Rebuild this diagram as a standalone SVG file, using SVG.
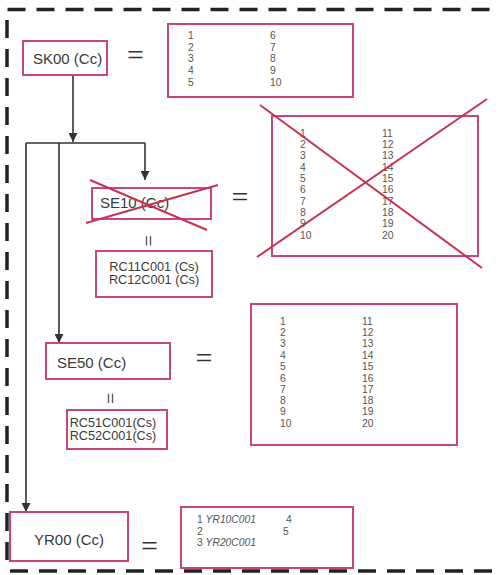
<svg xmlns="http://www.w3.org/2000/svg" width="499" height="575" viewBox="0 0 499 575">
<defs>
<marker id="ah" viewBox="0 0 10 10" refX="10" refY="5" markerWidth="9" markerHeight="9" markerUnits="userSpaceOnUse" orient="auto">
<path d="M0,0 L10,5 L0,10 Z" fill="#333"/>
</marker>
</defs>
<style>
.box{fill:#fff;stroke:#c8457f;stroke-width:2}
.lbl{font-family:"Liberation Sans",Arial,sans-serif;fill:#3a3a3a}
.big{font-size:15px}
.sub{font-size:12.7px;text-anchor:middle}
.num{font-size:10.3px;fill:#555}
.eq{font-size:30px;text-anchor:middle;dominant-baseline:central;fill:#333}
.eqs{font-size:20px;text-anchor:middle;dominant-baseline:central;fill:#333}
.x{stroke:#c8324f;stroke-width:2;fill:none}
.conn{stroke:#333;stroke-width:1.6;fill:none}
.border{stroke:#222;stroke-width:3.5;fill:none;stroke-dasharray:18 11}
</style>
<g id="frame">
<path class="border" d="M7,560 V9.5 H495"/>
<path class="border" d="M10,571 H495"/>
</g>
<g id="connectors">
<path class="conn" d="M73,75 V142" marker-end="url(#ah)"/>
<path class="conn" d="M26,143 H145"/>
<path class="conn" d="M145,143 V180" marker-end="url(#ah)"/>
<path class="conn" d="M59,143 V343" marker-end="url(#ah)"/>
<path class="conn" d="M26,143 V512" marker-end="url(#ah)"/>
</g>
<g id="SK00">
<rect class="box" x="23" y="41" width="84" height="34"/>
<text class="lbl big" x="33" y="64">SK00 (Cc)</text>
</g>
<g id="SK00-eq"><text class="eq" x="135.5" y="54.5">=</text></g>
<g id="SK00-list">
<rect class="box" x="168" y="24" width="185" height="73"/>
<g class="lbl num">
<text x="188" y="39">1</text><text x="188" y="51">2</text><text x="188" y="62">3</text><text x="188" y="74">4</text><text x="188" y="86">5</text>
<text x="270" y="39">6</text><text x="270" y="51">7</text><text x="270" y="62">8</text><text x="270" y="74">9</text><text x="270" y="86">10</text>
</g>
</g>
<g id="SE10">
<rect class="box" x="92" y="188" width="119" height="31"/>
<text class="lbl big" x="100" y="208">SE10 (Cc)</text>
<path class="x" d="M90,180 L207,230 M86,223 L218,185"/>
</g>
<g id="SE10-eq"><text class="eq" x="240" y="196">=</text></g>
<g id="SE10-list">
<rect class="box" x="272" y="116" width="206" height="140"/>
<g class="lbl num">
<text x="300" y="137">1</text><text x="300" y="148">2</text><text x="300" y="159">3</text><text x="300" y="171">4</text><text x="300" y="182">5</text>
<text x="300" y="193">6</text><text x="300" y="205">7</text><text x="300" y="216">8</text><text x="300" y="227">9</text><text x="300" y="239">10</text>
<text x="382" y="137">11</text><text x="382" y="148">12</text><text x="382" y="159">13</text><text x="382" y="171">14</text><text x="382" y="182">15</text>
<text x="382" y="193">16</text><text x="382" y="205">17</text><text x="382" y="216">18</text><text x="382" y="227">19</text><text x="382" y="239">20</text>
</g>
<path class="x" d="M260,105 L482,268 M257,257 L487,99"/>
</g>
<g id="SE10-eqv"><text class="eqs" x="148" y="241" transform="rotate(90 148 241)">=</text></g>
<g id="RC1x">
<rect class="box" x="96" y="251" width="116" height="46"/>
<text class="lbl sub" x="154" y="271">RC11C001 (Cs)</text>
<text class="lbl sub" x="154" y="284">RC12C001 (Cs)</text>
</g>
<g id="SE50">
<rect class="box" x="46" y="343" width="124" height="36"/>
<text class="lbl big" x="57" y="368">SE50 (Cc)</text>
</g>
<g id="SE50-eq"><text class="eq" x="204" y="357.5">=</text></g>
<g id="SE50-list">
<rect class="box" x="251" y="304" width="206" height="141"/>
<g class="lbl num">
<text x="280" y="325">1</text><text x="280" y="336">2</text><text x="280" y="347">3</text><text x="280" y="359">4</text><text x="280" y="370">5</text>
<text x="280" y="382">6</text><text x="280" y="393">7</text><text x="280" y="404">8</text><text x="280" y="415">9</text><text x="280" y="427">10</text>
<text x="362" y="325">11</text><text x="362" y="336">12</text><text x="362" y="347">13</text><text x="362" y="359">14</text><text x="362" y="370">15</text>
<text x="362" y="382">16</text><text x="362" y="393">17</text><text x="362" y="404">18</text><text x="362" y="415">19</text><text x="362" y="427">20</text>
</g>
</g>
<g id="SE50-eqv"><text class="eqs" x="110" y="398.5" transform="rotate(90 110 398.5)">=</text></g>
<g id="RC5x">
<rect class="box" x="67" y="410" width="100" height="39"/>
<text class="lbl sub" x="113" y="427">RC51C001(Cs)</text>
<text class="lbl sub" x="113" y="440">RC52C001(Cs)</text>
</g>
<g id="YR00">
<rect class="box" x="10" y="512" width="118" height="49"/>
<text class="lbl big" x="69" y="545" text-anchor="middle" font-size="15.5">YR00 (Cc)</text>
</g>
<g id="YR00-eq"><text class="eq" x="149.5" y="545.5">=</text></g>
<g id="YR00-list">
<rect class="box" x="181" y="507" width="172" height="61"/>
<g class="lbl num">
<text x="197" y="523">1 <tspan font-style="italic">YR10C001</tspan></text>
<text x="197" y="535">2</text>
<text x="197" y="546">3 <tspan font-style="italic">YR20C001</tspan></text>
<text x="286" y="523">4</text>
<text x="283" y="535">5</text>
</g>
</g>
</svg>
